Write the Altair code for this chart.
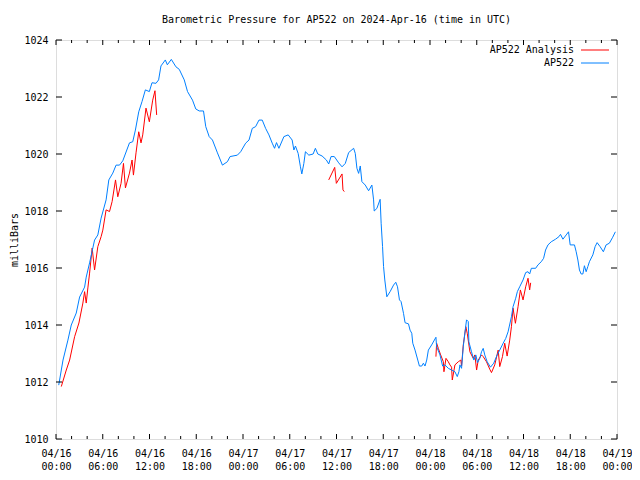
import altair as alt
import pandas as pd

# ---- data (hours since 2024-04-16 00:00 UTC, millibars) ----
blue_h = [0.35, 0.90, 1.53, 1.96, 2.60, 3.03, 3.67, 3.88, 4.31, 4.95, 5.37, 5.79, 6.43, 6.78, 7.29, 7.71,
          8.15, 8.57, 9.43, 9.85, 10.19, 10.62, 11.04, 11.47, 11.98, 12.32, 12.83, 13.17, 13.47, 14.03,
          14.29, 14.80, 15.39, 15.82, 16.46, 16.88, 17.52, 17.94, 18.38, 18.93, 19.22, 19.66, 20.08,
          20.72, 21.36, 22.00, 22.34, 23.28, 23.70, 24.34, 24.77, 25.19, 25.62, 26.05, 26.47, 26.90,
          27.33, 27.75, 28.05, 28.30, 28.61, 29.25, 29.80, 30.31, 30.53, 30.73, 31.08, 31.37, 31.55,
          31.81, 32.01, 32.45, 33.00, 33.29, 33.60, 34.15, 34.70, 35.00, 35.30, 35.72, 36.28, 36.71,
          37.13, 37.56, 38.20, 38.41, 38.62, 38.84, 39.05, 39.26, 39.69, 40.12, 40.54, 40.76, 40.84,
          41.18, 41.60, 41.73, 41.91, 42.04, 42.20, 42.46, 42.88, 43.32, 43.61, 43.83, 44.08, 44.29,
          44.60, 44.80, 45.24, 45.44, 45.66, 45.79, 46.08, 46.43, 46.64, 46.94, 47.15, 47.36, 47.58,
          47.79, 48.21, 48.76, 48.85, 49.28, 49.62, 49.92, 50.35, 50.77, 51.20, 51.50, 51.71, 51.84,
          52.05, 52.27, 52.47, 52.69, 52.91, 52.99, 53.33, 53.63, 53.88, 54.10, 54.39, 54.61, 54.83,
          55.03, 55.34, 55.76, 56.18, 56.62, 56.95, 57.39, 57.72, 58.02, 58.45, 58.66, 59.00, 59.21,
          59.51, 59.94, 60.28, 60.58, 60.79, 61.01, 61.56, 61.86, 62.28, 62.58, 62.83, 63.14, 63.56,
          64.11, 64.55, 64.75, 65.06, 65.48, 65.78, 65.99, 66.54, 66.76, 66.98, 67.18, 67.40, 67.62,
          67.82, 68.04, 68.26, 68.46, 68.90, 69.19, 69.45, 69.83, 70.25, 70.60, 71.02, 71.45, 71.79]
blue_v = [1011.89, 1012.77, 1013.47, 1014.00, 1014.42, 1014.98, 1015.33, 1015.68, 1016.18, 1016.98,
          1017.16, 1017.75, 1018.39, 1019.09, 1019.33, 1019.61, 1019.61, 1019.76, 1020.39, 1020.43,
          1020.84, 1021.48, 1021.84, 1022.25, 1022.19, 1022.50, 1022.48, 1022.60, 1023.09, 1023.30,
          1023.13, 1023.32, 1023.06, 1022.97, 1022.60, 1022.19, 1021.89, 1021.58, 1021.51, 1021.51,
          1020.96, 1020.61, 1020.49, 1020.04, 1019.61, 1019.73, 1019.91, 1019.96, 1020.08, 1020.38,
          1020.49, 1020.90, 1020.96, 1021.19, 1021.19, 1020.90, 1020.67, 1020.38, 1020.20, 1020.40,
          1020.20, 1020.61, 1020.67, 1020.49, 1020.14, 1020.28, 1020.02, 1019.55, 1019.30, 1019.67,
          1020.08, 1019.96, 1020.00, 1020.20, 1020.00, 1019.93, 1019.79, 1019.65, 1019.91, 1019.91,
          1019.69, 1019.55, 1019.67, 1020.05, 1020.20, 1020.02, 1019.50, 1019.32, 1019.58, 1019.03,
          1018.91, 1018.71, 1018.91, 1018.39, 1018.00, 1018.09, 1018.41, 1017.57, 1016.75, 1016.05,
          1015.58, 1014.99, 1015.17, 1015.40, 1015.50, 1015.34, 1014.88, 1014.82, 1014.41, 1014.08,
          1014.04, 1013.82, 1013.71, 1013.36, 1013.12, 1012.77, 1012.56, 1012.56, 1012.66, 1012.56,
          1012.77, 1013.12, 1013.30, 1013.57, 1013.24, 1012.95, 1012.56, 1012.60, 1012.48, 1012.42,
          1012.36, 1012.19, 1012.36, 1012.60, 1012.48, 1013.24, 1013.71, 1014.18, 1014.12, 1013.41,
          1013.06, 1012.77, 1012.95, 1012.68, 1012.83, 1013.06, 1013.18, 1012.95, 1012.71, 1012.52,
          1012.66, 1012.95, 1013.12, 1013.36, 1013.53, 1013.76, 1014.29, 1014.64, 1014.94, 1015.17,
          1015.34, 1015.58, 1015.84, 1015.87, 1015.79, 1015.99, 1015.99, 1016.11, 1016.22, 1016.34,
          1016.63, 1016.81, 1016.92, 1017.01, 1017.10, 1017.18, 1017.01, 1017.16, 1017.27, 1016.81,
          1016.81, 1016.57, 1016.28, 1015.93, 1015.79, 1015.79, 1016.08, 1015.87, 1016.05, 1016.22,
          1016.46, 1016.75, 1016.89, 1016.75, 1016.57, 1016.81, 1016.87, 1017.08, 1017.27]

red_h = [0.68, 1.32, 1.75, 2.39, 2.94, 3.45, 3.67, 3.88, 4.09, 4.31, 4.64, 4.95, 5.37, 5.79, 6.01, 6.43,
         6.87, 7.20, 7.64, 7.93, 8.35, 8.66, 8.91, 9.43, 9.76, 9.94, 10.27, 10.62, 10.91, 11.13, 11.55,
         11.98, 12.41, 12.70, 12.92,
         35.00, 35.77, 35.98, 36.71, 36.83, 37.00,
         48.76, 48.85, 49.07, 49.37, 49.71, 49.79, 50.05, 50.35, 50.56, 50.77, 50.86, 51.20, 51.63,
         51.96, 52.05, 52.27, 52.60, 52.78, 53.12, 53.55, 53.76, 53.98, 54.19, 54.61, 54.83, 55.25,
         55.67, 55.89, 56.31, 56.75, 56.95, 57.30, 57.59, 57.90, 58.23, 58.45, 58.66, 58.96, 59.30,
         59.60, 59.94, 60.28, 60.58, 60.79, 60.92]
red_v = [1011.84, 1012.42, 1012.77, 1013.59, 1014.07, 1014.77, 1015.17, 1014.77, 1015.30, 1015.82,
         1016.70, 1015.93, 1016.75, 1017.10, 1017.33, 1018.04, 1017.98, 1018.33, 1019.09, 1018.50,
         1018.97, 1019.67, 1018.81, 1019.33, 1019.79, 1019.26, 1020.04, 1020.78, 1020.39, 1020.67,
         1021.61, 1021.13, 1021.89, 1022.22, 1021.37,
         1019.09, 1019.53, 1018.97, 1019.30, 1018.74, 1018.68,
         1012.89, 1013.36, 1013.18, 1012.95, 1012.71, 1012.36, 1012.83, 1012.71, 1012.60, 1012.52,
         1012.07, 1012.60, 1012.71, 1012.77, 1012.56, 1013.30, 1013.94, 1013.71, 1013.06, 1012.83,
         1012.95, 1012.42, 1012.77, 1012.95, 1012.89, 1012.71, 1012.45, 1012.33, 1012.60, 1013.12,
         1012.54, 1012.89, 1013.36, 1012.91, 1013.47, 1013.94, 1014.59, 1014.06, 1014.64, 1015.23,
         1014.88, 1015.34, 1015.64, 1015.23, 1015.48]
red_seg = [1] * 35 + [2] * 6 + [3] * 45

series_names = ["AP522 Analysis", "AP522"]
series_colors = ["#ff0000", "#0080ff"]

x_major = list(range(0, 73, 6))
x_minor = [h for h in range(0, 73, 2) if h % 6 != 0]
y_major = list(range(1010, 1025, 2))

W, H = 561, 399
FONT = "DejaVu Sans Mono"

blue_df = pd.DataFrame({"h": blue_h, "v": blue_v})
red_df = pd.DataFrame({"h": red_h, "v": red_v, "seg": red_seg})

xs = alt.Scale(domain=[0, 72], nice=False, zero=False)
ys = alt.Scale(domain=[1010, 1024], nice=False, zero=False)

x_axis = alt.Axis(
    values=x_major, ticks=False, domain=False, grid=False, title=None,
    labelExpr="['04/' + (16 + floor(datum.value / 24)), (datum.value % 24 < 10 ? '0' : '') + (datum.value % 24) + ':00']",
    labelFont=FONT, labelFontSize=10, labelColor="black", labelPadding=9,
    labelLineHeight=13, labelBaseline="top", labelOverlap=False, labelFlush=False,
)
y_axis = alt.Axis(
    values=y_major, ticks=False, domain=False, grid=False, format="d",
    title="milliBars", titleFont=FONT, titleFontSize=10, titleFontWeight="normal",
    titleColor="black", titlePadding=4,
    labelFont=FONT, labelFontSize=10, labelColor="black", labelPadding=8,
)

red = alt.Chart(red_df).mark_line(color=series_colors[0], strokeWidth=1).encode(
    x=alt.X("h:Q", scale=xs, axis=x_axis),
    y=alt.Y("v:Q", scale=ys, axis=y_axis),
    detail="seg:N",
)
blue = alt.Chart(blue_df).mark_line(color=series_colors[1], strokeWidth=1).encode(
    x=alt.X("h:Q", scale=xs),
    y=alt.Y("v:Q", scale=ys),
)

xmaj_df = pd.DataFrame({"h": x_major})
xmin_df = pd.DataFrame({"h": x_minor})
ymaj_df = pd.DataFrame({"v": y_major})


def xticks(df, length):
    bottom = alt.Chart(df).mark_rule(color="black", strokeWidth=1).encode(
        x=alt.X("h:Q", scale=xs), y=alt.value(H), y2=alt.value(H - length))
    top = alt.Chart(df).mark_rule(color="black", strokeWidth=1).encode(
        x=alt.X("h:Q", scale=xs), y=alt.value(0), y2=alt.value(length))
    return bottom + top


yt_left = alt.Chart(ymaj_df).mark_rule(color="black", strokeWidth=1).encode(
    y=alt.Y("v:Q", scale=ys), x=alt.value(0), x2=alt.value(6))
yt_right = alt.Chart(ymaj_df).mark_rule(color="black", strokeWidth=1).encode(
    y=alt.Y("v:Q", scale=ys), x=alt.value(W), x2=alt.value(W - 6))

legend_df = pd.DataFrame({"name": series_names, "color": series_colors})
LEG_Y = [10, 23]
legend_layers = []
for i, (name, col) in enumerate(zip(series_names, series_colors)):
    sub = legend_df[legend_df["name"] == name]
    legend_layers.append(
        alt.Chart(sub).mark_text(align="right", baseline="middle", font=FONT, fontSize=10,
                                 color="black").encode(
            x=alt.value(518), y=alt.value(LEG_Y[i]), text="name:N"))
    legend_layers.append(
        alt.Chart(sub).mark_rule(strokeWidth=1, color=col).encode(
            x=alt.value(525), x2=alt.value(553), y=alt.value(LEG_Y[i])))

chart = alt.layer(
    red, blue, xticks(xmaj_df, 5), xticks(xmin_df, 3), yt_left, yt_right, *legend_layers
).properties(
    width=W, height=H,
    title=alt.TitleParams(
        "Barometric Pressure for AP522 on 2024-Apr-16 (time in UTC)",
        font=FONT, fontSize=10, fontWeight="normal", color="black", anchor="middle", offset=10,
    ),
    autosize=alt.AutoSizeParams(type="none"),
    padding={"left": 48, "top": 32, "right": 15, "bottom": 33},
).configure_view(stroke="black", strokeWidth=1).configure(background="white")

chart.save("out.html", embed_options={"renderer": "svg", "actions": False})
